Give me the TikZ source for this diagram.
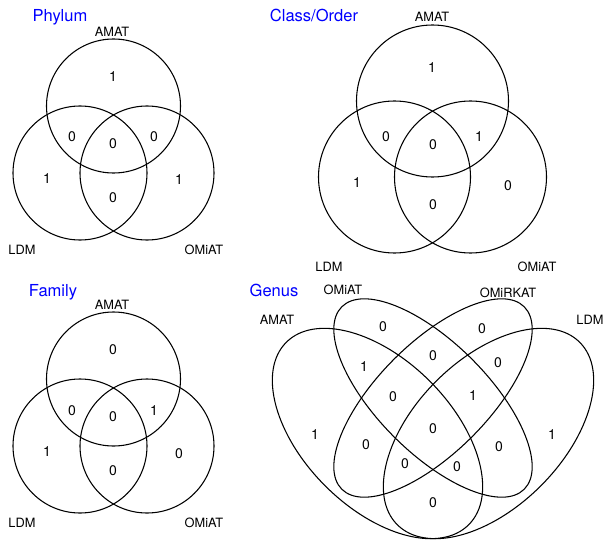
\documentclass[tikz,border=0pt]{standalone}
\usepackage{fontspec}
\setmainfont{TeX Gyre Heros}
\usetikzlibrary{shapes.geometric}
\definecolor{titleblue}{RGB}{0,0,255}
\begin{document}
\begin{tikzpicture}[x=0.75pt,y=-0.75pt,
  setline/.style={draw=black, line width=0.8pt, inner sep=0pt, outer sep=0pt},
  ring/.style={setline, circle},
  oval/.style={setline, ellipse},
  lbl/.style={font=\fontsize{9.6}{11}\selectfont, inner sep=0pt},
  num/.style={font=\fontsize{10.5}{12}\selectfont, inner sep=0pt},
  ttl/.style={font=\fontsize{12.4}{14}\selectfont, text=titleblue, anchor=base, inner sep=0pt}]
\useasboundingbox (0,0) rectangle (606,542);
\fill[white] (0,0) rectangle (606,542);

% ---------- Phylum ----------
\node[ttl] (p-title) at (60,21.7) {Phylum};
\node[ring, minimum size=100.5pt] (p-amat) at (113.5,106) {};
\node[ring, minimum size=100.5pt] (p-ldm)  at (80,173) {};
\node[ring, minimum size=100.5pt] (p-omi)  at (147,173) {};
\node[lbl] (p-la) at (112,32) {AMAT};
\node[lbl] (p-ll) at (22,250) {LDM};
\node[lbl] (p-lo) at (204,250) {OMiAT};
\node[num] (p-n1) at (113,77) {1};
\node[num] (p-n2) at (72,137) {0};
\node[num] (p-n3) at (113,144) {0};
\node[num] (p-n4) at (154,137) {0};
\node[num] (p-n5) at (47,179) {1};
\node[num] (p-n6) at (179,180) {1};
\node[num] (p-n7) at (113,198) {0};

% ---------- Class/Order ----------
\node[ttl] (c-title) at (314,21.7) {Class/Order};
\node[ring, minimum size=114pt] (c-amat) at (432.5,101) {};
\node[ring, minimum size=114pt] (c-ldm)  at (394.5,177) {};
\node[ring, minimum size=114pt] (c-omi)  at (470.5,177) {};
\node[lbl] (c-la) at (432,17) {AMAT};
\node[lbl] (c-ll) at (329,267) {LDM};
\node[lbl] (c-lo) at (537,267) {OMiAT};
\node[num] (c-n1) at (432,68) {1};
\node[num] (c-n2) at (386,137) {0};
\node[num] (c-n3) at (433,145) {0};
\node[num] (c-n4) at (479,137) {1};
\node[num] (c-n5) at (357,183) {1};
\node[num] (c-n6) at (508,186) {0};
\node[num] (c-n7) at (433,205) {0};

% ---------- Family ----------
\node[ttl] (f-title) at (53,296.5) {Family};
\node[ring, minimum size=100.5pt] (f-amat) at (113.5,379) {};
\node[ring, minimum size=100.5pt] (f-ldm)  at (80,446) {};
\node[ring, minimum size=100.5pt] (f-omi)  at (147,446) {};
\node[lbl] (f-la) at (112,305) {AMAT};
\node[lbl] (f-ll) at (22,523) {LDM};
\node[lbl] (f-lo) at (204,523) {OMiAT};
\node[num] (f-n1) at (113,350) {0};
\node[num] (f-n2) at (72,411) {0};
\node[num] (f-n3) at (113,417) {0};
\node[num] (f-n4) at (154,411) {1};
\node[num] (f-n5) at (47,452) {1};
\node[num] (f-n6) at (179,454) {0};
\node[num] (f-n7) at (113,471) {0};

% ---------- Genus ----------
\node[ttl] (g-title) at (274,296.5) {Genus};
\node[oval, minimum width=193.5pt, minimum height=111pt, rotate=-45] (g-amat) at (377.5,433.5) {};
\node[oval, minimum width=193.5pt, minimum height=82.5pt, rotate=-45] (g-omi) at (433,398) {};
\node[oval, minimum width=193.5pt, minimum height=82.5pt, rotate=45] (g-rk) at (433,398) {};
\node[oval, minimum width=193.5pt, minimum height=111pt, rotate=45] (g-ldm) at (488.5,433.5) {};
\node[lbl] (g-la) at (277,320) {AMAT};
\node[lbl] (g-lo) at (343,290) {OMiAT};
\node[lbl] (g-lr) at (508,292.5) {OMiRKAT};
\node[lbl] (g-ll) at (590,320) {LDM};
\node[num] (g-n1)  at (383,327) {0};
\node[num] (g-n2)  at (482,329) {0};
\node[num] (g-n3)  at (433,356) {0};
\node[num] (g-n4)  at (364,367) {1};
\node[num] (g-n5)  at (498,363) {0};
\node[num] (g-n6)  at (393,397) {0};
\node[num] (g-n7)  at (473,396) {1};
\node[num] (g-n8)  at (315,435) {1};
\node[num] (g-n9)  at (433,429) {0};
\node[num] (g-n10) at (552,435) {1};
\node[num] (g-n11) at (366,445) {0};
\node[num] (g-n12) at (499,447) {0};
\node[num] (g-n13) at (405,464) {0};
\node[num] (g-n14) at (457,467) {0};
\node[num] (g-n15) at (433,503) {0};
\end{tikzpicture}
\end{document}
